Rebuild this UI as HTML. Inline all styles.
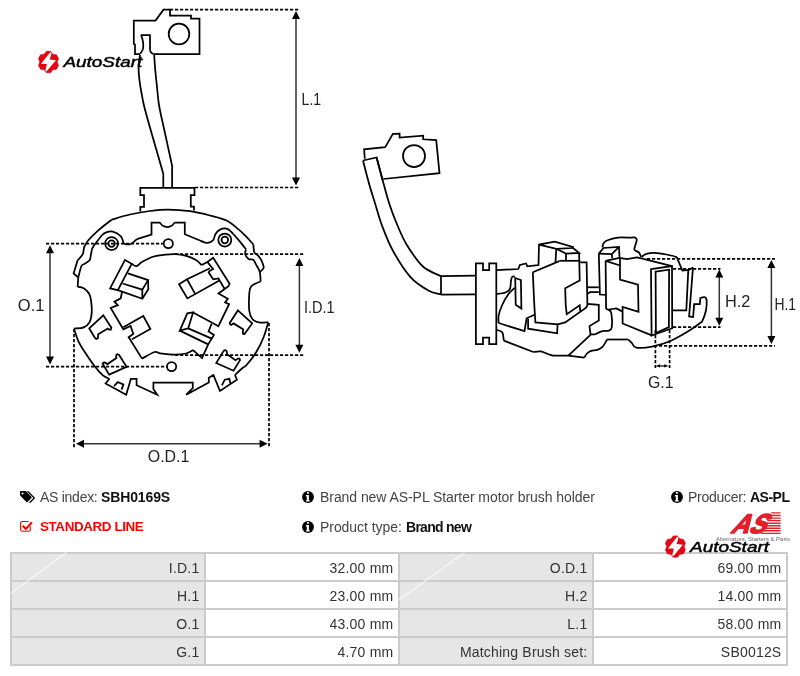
<!DOCTYPE html>
<html><head><meta charset="utf-8">
<style>
*{margin:0;padding:0;box-sizing:border-box}
html,body{width:800px;height:676px;background:#fff;overflow:hidden;font-family:"Liberation Sans",sans-serif;font-size:14px;color:#333}
#draw{position:absolute;left:0;top:0;width:800px;height:676px;will-change:transform}
.t,#tbl{will-change:transform}
.t{position:absolute;white-space:nowrap;line-height:16px;color:#444}
.t b{color:#111;font-weight:bold}
.red{color:#f00}
.red b{color:#f00}
#tbl{position:absolute;left:10px;top:552px;width:778px;height:114px;background:#cbcbcb;padding:2px;display:grid;grid-template-columns:192px 192px 192px 192px;grid-template-rows:26px 26px 26px 26px;gap:2px}
#tbl div{text-align:right;padding-right:4.6px;padding-top:1px;line-height:26px;height:26px;color:#333;white-space:nowrap;letter-spacing:0.2px}
#tbl .g{background:#e6e6e6}
#tbl .w{background:#fff}
.ic{position:absolute}
</style></head><body>


<!-- info rows -->
<svg class="ic" style="left:19px;top:490px" width="17" height="14" viewBox="0 0 17 14"><path d="M1.4,1 H6.4 Q6.8,1 7.1,1.3 L12.4,6.8 Q12.9,7.4 12.4,7.9 L8.6,11.9 Q8,12.5 7.4,11.9 L1.3,5.7 Q1,5.4 1,5 V1.4 Q1,1 1.4,1Z" fill="#000"/><circle cx="3.5" cy="3.5" r="1.05" fill="#fff"/><path d="M8.6,1.1 L15.3,8 L10.6,12.7" stroke="#000" stroke-width="1.3" fill="none"/></svg>
<div class="t" style="left:40px;top:489px;letter-spacing:-0.27px">AS index:</div><div class="t" style="left:101px;top:489px;letter-spacing:-0.12px"><b>SBH0169S</b></div>

<svg class="ic" style="left:19px;top:520px" width="14" height="13" viewBox="0 0 14 13"><path d="M9.6,1.5 H3.1 Q1.6,1.5 1.6,3 V9.7 Q1.6,11.2 3.1,11.2 H9.8 Q11.3,11.2 11.3,9.7 V6.4" stroke="#f00" stroke-width="1.15" fill="none"/><path d="M3.8,5.8 L6.9,9 L13,2.3" stroke="#f00" stroke-width="2.1" fill="none"/></svg>
<div class="t red" style="left:40.3px;top:519px;letter-spacing:-0.38px;font-size:13.4px"><b>STANDARD LINE</b></div>

<svg class="ic" style="left:302px;top:491px" width="12" height="12" viewBox="0 0 12 12"><circle cx="6" cy="5.95" r="5.95" fill="#000"/><rect x="4.9" y="1.05" width="2" height="1.8" rx="0.5" fill="#fff"/><path d="M3.9,4.1H6.9V9.2H7.7V10.6H3.9V9.2H4.8V5.4H3.9Z" fill="#fff"/></svg>
<div class="t" style="left:319.6px;top:489px;letter-spacing:-0.06px">Brand new AS-PL Starter motor brush holder</div>

<svg class="ic" style="left:302px;top:521px" width="12" height="12" viewBox="0 0 12 12"><circle cx="6" cy="5.95" r="5.95" fill="#000"/><rect x="4.9" y="1.05" width="2" height="1.8" rx="0.5" fill="#fff"/><path d="M3.9,4.1H6.9V9.2H7.7V10.6H3.9V9.2H4.8V5.4H3.9Z" fill="#fff"/></svg>
<div class="t" style="left:319.6px;top:519px;letter-spacing:-0.06px">Product type:</div><div class="t" style="left:405.9px;top:519px;letter-spacing:-0.72px"><b>Brand new</b></div>

<svg class="ic" style="left:671px;top:491px" width="12" height="12" viewBox="0 0 12 12"><circle cx="6" cy="5.95" r="5.95" fill="#000"/><rect x="4.9" y="1.05" width="2" height="1.8" rx="0.5" fill="#fff"/><path d="M3.9,4.1H6.9V9.2H7.7V10.6H3.9V9.2H4.8V5.4H3.9Z" fill="#fff"/></svg>
<div class="t" style="left:688.3px;top:489px;letter-spacing:-0.28px">Producer:</div><div class="t" style="left:750.4px;top:489px;letter-spacing:-0.5px"><b>AS-PL</b></div>

<div id="tbl">
<div class="g">I.D.1</div><div class="w">32.00 mm</div><div class="g">O.D.1</div><div class="w">69.00 mm</div>
<div class="g">H.1</div><div class="w">23.00 mm</div><div class="g">H.2</div><div class="w">14.00 mm</div>
<div class="g">O.1</div><div class="w">43.00 mm</div><div class="g">L.1</div><div class="w">58.00 mm</div>
<div class="g">G.1</div><div class="w">4.70 mm</div><div class="g">Matching Brush set:</div><div class="w">SB0012S</div>
</div>
<svg id="draw" viewBox="0 0 800 676" fill="none" stroke="#000" stroke-width="1.75" stroke-linejoin="miter">
<!-- DRAW START -->
<path d="M140,54 L135,54 L135,44.5 L133.8,44 L133.8,20.5 L155.5,20.5 L163.5,9.7 L170,9.7 L170,15.5 L191,15.5 L191,18.5 L199.5,18.5 L199.5,54 L153.7,54"/>
<path d="M140,54 C140.4,53.3 142,51.5 142.6,50 C143.2,48.5 143.3,46.8 143.3,45 C143.3,43.2 142.8,40.7 142.4,39 C142,37.3 141.2,35.7 141,35"/>
<path d="M141,35 L150,35 L150,50.5"/>
<path d="M150,50.5 C150.2,50.9 150.9,52.2 151.5,52.8 C152.1,53.4 153.3,53.8 153.7,54"/>
<circle cx="179" cy="34" r="10.3"/>
<path d="M140,55 C139.8,57 138.7,62.8 138.6,67 C138.5,71.2 139,76 139.5,80.5 C140,85 140.8,89.4 141.7,94 C142.5,98.6 142.5,99.8 144.6,108 C146.7,116.2 151.4,132.5 154.4,143 C157.4,153.5 161,165.5 162.5,171 C164,176.5 163.2,175.2 163.3,176"/>
<path d="M163.3,176 L163.3,187.8"/>
<path d="M154.2,55 C154.3,57 154.6,62 155,67 C155.4,72 156.1,78.7 156.8,85 C157.5,91.3 157.9,98.2 159,105 C160.1,111.8 161.2,115.8 163.3,125.5 C165.4,135.2 170,155.9 171.5,163 C173,170.1 172,167.2 172.1,168"/>
<path d="M172.1,168 L172.1,187.8"/>
<path d="M140.3,211.5 L140.3,206.8 L144,206.8 L144,195 L140.3,195 L140.3,187.8 L194.5,187.8 L194.5,195 L190.8,195 L190.8,206.5 L194,206.5 L194,210.5"/>
<path d="M111.6,219.7 C114.7,218.8 123.6,215.9 130,214.5 C136.4,213.1 143.7,211.8 150,211 C156.3,210.2 161.3,209.6 168,209.6 C174.7,209.6 183,210.2 190,211.2 C197,212.2 203.9,213.9 210,215.5 C216.1,217.1 221.8,218.3 226.5,220.5 C231.2,222.7 234.7,226.3 237.9,228.9 C241.2,231.5 243.4,233.7 246,236.3 C248.6,238.9 252.1,243.1 253.3,244.4"/>
<path d="M253.3,244.4 L254.1,252.5"/>
<path d="M254.1,252.5 C254.9,253.2 257.6,255 259,256.6 C260.4,258.2 261.5,260.4 262.3,262.3 C263.1,264.2 264,266.4 263.6,268 C263.2,269.6 260.4,271.3 259.8,272"/>
<path d="M233.3,234 C234.3,235.2 237.4,238.5 239.5,241.1 C241.6,243.7 244.9,247.9 246,249.3"/>
<path d="M246,249.3 C245.9,250.1 244.8,252.5 245.2,254.1 C245.6,255.7 247.2,258.1 248.5,259 C249.8,259.9 252,258.7 253.3,259.8 C254.7,260.9 255.5,263.5 256.6,265.5 C257.7,267.5 259.1,269.3 259.8,272 C260.5,274.7 260.5,279.9 260.6,281.5"/>
<path d="M260.6,281.5 C259.8,281.8 257.4,282.5 255.8,283.4 C254.2,284.3 252,285.1 250.9,286.7 C249.8,288.3 249.6,289.1 249.3,293.2 C249,297.2 248.8,306.7 249.3,311 C249.8,315.3 250.9,317.3 252.5,319.2 C254.1,321.1 256.3,321.9 259,322.4 C261.7,322.9 266.9,322.3 268.5,322.3"/>
<path d="M111.6,219.7 C109.4,221.5 102.2,226.9 98.3,230.3 C94.4,233.7 90.6,237.5 88.3,240.3 C86,243.1 85.2,244.7 84.3,246.9 C83.4,249.1 83.8,251.7 83,253.6 C82.2,255.5 80.5,257.1 79.6,258.2 C78.7,259.3 77.9,259.9 77.6,260.2"/>
<path d="M77.6,260.2 L73.6,273.5 L78.3,277.5"/>
<path d="M123.5,243 C123.1,241.9 122.7,238.2 120.9,236.3 C119.1,234.4 115.4,232.3 112.9,231.6 C110.5,230.9 108,231.7 106.2,232.3 C104.4,232.9 103.8,233.4 102.2,235 C100.7,236.6 98.6,239.4 96.9,241.6 C95.2,243.8 93.3,246.1 92.3,248.3 C91.3,250.5 91.4,252.9 90.9,254.9 C90.5,256.9 90.6,258.8 89.6,260.2 C88.6,261.6 86.3,262.7 85,263.6 C83.7,264.5 82.5,264.2 81.6,265.6 C80.7,267 80.1,270.2 79.6,272.2 C79,274.2 78.5,276.6 78.3,277.5"/>
<path d="M78.3,277.5 L77.6,286.8"/>
<path d="M77.6,286.8 C78.6,287 81.7,287.1 83.6,288.2 C85.5,289.3 87.8,291.5 89,293.5 C90.2,295.5 90.5,297.1 91,300.1 C91.5,303.2 92,308.1 91.8,311.8 C91.6,315.5 90.9,319.6 89.6,322.2 C88.2,324.8 86.3,326.3 83.7,327.4 C81.1,328.5 75.6,328.4 74,328.6"/>
<path d="M74,328.8 C74.9,331.1 77.1,338.6 79.2,342.9 C81.3,347.2 83.9,350.6 86.6,354.7 C89.3,358.8 92.8,363.9 95.5,367.3 C98.2,370.8 100.6,373.5 102.9,375.4 C105.2,377.3 108.3,378.2 109.4,378.8"/>
<path d="M268.2,322.8 C267.4,325.2 265.5,332.6 263.5,337.5 C261.5,342.4 258.8,348 256,352.5 C253.2,357 249.2,361.9 247,364.5 C244.8,367.1 244.5,366.2 242.5,368 C240.5,369.8 236.2,373.8 235,375"/>
<path d="M109.4,378.8 L105.6,383.4 L126.2,394.7 L130.9,378.8 L136.6,378.8 L136.6,385.3 L157.2,394.7 L153.4,389 L153.4,382.5 L192.8,382.5 L192.8,388.1 L186.2,394.7 L208.8,382.5 L208.8,377.8 L213.4,375 L220,391 L236.9,379.7 L235,375"/>
<path d="M114,386.2 L117.8,382.1 L123.4,384.4 L121.6,389.6"/>
<path d="M221.9,385.3 L224.7,379.7 L229.4,378.8 L230.3,383.4"/>
<path d="M123.5,243 C123.8,243.2 124.1,243.9 125.1,244.1 C126.1,244.3 128.3,244.6 129.5,244.4 C130.7,244.2 131.3,243.8 132.5,242.9 C133.7,242 136.2,239.8 136.9,239.2"/>
<path d="M136.9,239.2 L151.5,234.5 L151.5,222.5 L160,222.5"/>
<path d="M160,222.5 C160.4,223 161.3,224.8 162.5,225.6 C163.7,226.3 165.7,227 167.3,227 C168.9,227 170.8,226.3 172,225.6 C173.2,224.8 174.1,223 174.5,222.5"/>
<path d="M174.5,222.5 L184.8,222.5 L184.8,234.2 L200,240.5"/>
<path d="M200,240.5 C200.7,240.8 202.7,241.8 204,242.2 C205.3,242.6 206.5,243.3 208.1,242.9 C209.7,242.5 212.1,241.5 213.3,240 C214.5,238.5 214.4,235.7 215.5,234 C216.6,232.3 218,230.5 220,229.6 C222,228.7 225.1,228.1 227.3,228.8 C229.5,229.5 232.3,233.1 233.3,234"/>
<circle cx="111.6" cy="243.6" r="6.5"/>
<circle cx="111.6" cy="243.6" r="3.3"/>
<circle cx="224.8" cy="240" r="6.5"/>
<circle cx="224.8" cy="240" r="3.3"/>
<circle cx="168.3" cy="243.6" r="4.6"/>
<circle cx="171.6" cy="366.6" r="4.6"/>
<path d="M131.7,263.8 C132.5,264.2 134.7,266.5 136.5,266.2 C138.3,265.9 139.4,263.4 142.3,261.8 C145.2,260.2 150,257.7 153.8,256.5 C157.7,255.3 161.9,255 165.4,254.6 C168.9,254.2 171.5,253.9 175,254.1 C178.5,254.3 182.8,254.9 186.3,255.9 C189.8,256.9 193.4,258.5 196,260 C198.6,261.5 200.7,264.2 201.6,265.1"/>
<path d="M142,358.6 C144.1,357.5 151.6,352.9 154.6,352 C157.6,351.1 156.6,352.9 160,353.3 C163.4,353.7 170.7,354.5 175,354.5 C179.3,354.5 183,354.2 186,353.5 C189,352.8 191.9,350.7 193.1,350.1"/>
<path d="M125,259.9 L131.7,263.8 L117.8,290.2 L110.1,288.3Z"/>
<path d="M127.9,273.4 L148.1,280.1 L142.3,289.7 L122.6,283.5"/>
<path d="M117.8,290.2 L142.3,298.8 L148.3,289.2 L148.1,280.1"/>
<path d="M142.3,289.7 L142.3,298.8"/>
<path d="M122.1,291.5 L120.7,298.4 L114.4,301.7 L117.8,305.1 L110.7,308 L123.3,329.3 L130.6,326 L133.3,334 L128.6,337.3 L130,339.3 L142,358.6"/>
<path d="M123.3,327.3 L143.3,316 L150.4,329 L132,339.3"/>
<path d="M201.6,265.1 L207.4,262 L213.2,257.8 L229.6,283.7 L228.2,286.4 L224.7,289 L218.5,293.5 L227.8,298.8 L225.1,302.4 L229.1,304.1 L218.4,326.2 L212.6,323.1"/>
<path d="M207.4,262 L213.2,269.1 L209.2,271.3 L208.7,272.6 L213.2,279.3 L218.5,278.4 L219.4,280.2 L224.7,289"/>
<path d="M210,268.2 L187,279.3 L179,284.2 L187.4,298.4 L219.4,280.6"/>
<path d="M187,279.3 L195.4,294.4"/>
<path d="M179.8,330.6 L187.3,313.3 L193.1,312.4 L188.2,328.4Z"/>
<path d="M193.1,312.4 L212.6,323.1"/>
<path d="M188.2,328.4 L211.7,338.6"/>
<path d="M179.8,330.6 L208.2,344.4"/>
<path d="M211.7,323.5 L208.6,331.5 L213.9,335 L208.2,344.4 L202,358.1 L193.1,350.1"/>
<path d="M89.2,328.3 L103.3,315.3 L111.4,327.7 L110.9,329.7 L109.2,329.7 L107.8,328.6 L98.2,334.2 L97.9,338.1 L96.2,339 L94.8,337.6Z"/>
<path d="M109.2,374.6 L126.6,366.8 L119.1,355 L117.6,354.2 L116.4,354.9 L116.2,356.2 L116.4,358.1 L107.5,364.1 L104.6,362.4 L103.4,362.6 L102.6,363.7Z"/>
<path d="M237.9,310.4 L252.2,323.4 L244.4,334 L243.4,334 L242.8,333 L243.1,329.3 L233.5,323.4 L231.2,324.9 L230,324.2 L229.7,322.9Z"/>
<path d="M216.2,363 L233.5,370.7 L240,360.1 L239.6,358.7 L238.3,358.4 L235.5,360.3 L227.1,354.3 L226.7,351.2 L225.6,350.2 L224.3,350.4 L223.1,351.7Z"/>
<path d="M364.8,158.7 L364.1,149.4 L385.2,147.2 L392.9,133.9 L399.6,133.6 L399.6,137.6 L423.2,135.7 L423.2,139.3 L436.2,140.1 L439.5,173.1 L383.3,179"/>
<path d="M363,160.5 L376.6,157.5 L382.5,179.7"/>
<circle cx="414" cy="156" r="11"/>
<path d="M363,160.5 C364,164.4 367.2,177 369.2,184.2 C371.2,191.3 373,196.6 375.1,203.4 C377.2,210.2 378.9,217.2 381.8,225 C384.8,232.8 388,241.8 392.8,250.5 C397.6,259.2 404.6,270.5 410.5,277.1 C416.4,283.8 423.2,287.5 428.3,290.4 C433.4,293.3 438.9,293.8 441,294.5"/>
<path d="M376.6,157.5 C377.6,161.2 380.4,172 382.5,179.7 C384.6,187.3 386.7,195.8 389.2,203.4 C391.7,211 394.3,218 397.3,225 C400.3,232 402.7,238.3 407,245.2 C411.3,252.1 417.2,261.3 422.9,266.5 C428.6,271.7 438,274.6 441,276.2"/>
<path d="M441,276.2 L441,294.5"/>
<path d="M441,276.2 L475.9,275.6"/>
<path d="M441,294.5 L475.9,294.3"/>
<path d="M475.9,263.3 L483,263.3 L483,270.2 L489.2,270.2 L489.2,263.3 L496.3,263.3 L496.3,344 L489.2,344 L489.2,337.5 L483,337.5 L483,344 L475.9,344Z"/>
<path d="M496.3,270.2 L518.3,269 L519.9,265 L526.1,263.5 L527.3,266.3 L538.5,265 L539,244.6 L554.8,241.6 L572.8,246.9 L572,248 L556.3,248.8 L539,244.6"/>
<path d="M556.3,248.8 L555.5,262.3"/>
<path d="M556.3,248.8 L566,253.6 L579.1,252.9 L572.4,247.5"/>
<path d="M566,253.6 L566,260.6"/>
<path d="M579.1,252.9 L579.7,280.6 L565.2,288.3 L565.7,305 L566.7,314.2 L579.7,305.4 L580.2,311"/>
<path d="M559.3,260.8 L580.3,260.8"/>
<path d="M532.8,272.3 L559.3,261.1"/>
<path d="M532.8,272.3 L534.3,305 L534.9,314.7 L535.4,322.4 L557.6,324.3 L565.2,322.4 L586.4,307.4 L587.4,305 L586.6,262.3 L580.3,262.3"/>
<path d="M498.6,323 L524.5,331.2 L526.6,318.3 L534.6,314.7"/>
<path d="M528.1,318.8 L528.1,328.7 L557.1,333.3 L557.6,324.3"/>
<path d="M515.2,278 L520.9,280 L521.4,308.5 L515.7,304.8Z"/>
<path d="M496.3,294 C497.8,293.8 503.1,293.4 505.4,292.5 C507.7,291.6 509.1,290.8 510,288.8 C510.9,286.8 510.6,282.6 511,280.6 C511.4,278.6 511.5,277.7 512.1,277 C512.7,276.3 514.3,276.5 514.7,276.4"/>
<path d="M514.7,287.8 C513.7,288.8 510.6,291.1 508.5,294 C506.4,296.9 503.8,301.4 502.2,305 C500.6,308.6 499.2,312.7 498.6,315.7 C498,318.7 498.6,321.8 498.6,323"/>
<path d="M496.3,329.7 C497.3,330.1 500.9,330.5 502.2,332.3 C503.4,334.1 503.5,339.2 503.8,340.6"/>
<path d="M503.8,340.6 L533.3,352"/>
<path d="M533.3,352 C534.5,351.9 538.2,351.1 540.6,351.4 C543,351.7 545.7,353.3 547.8,354 C549.9,354.7 551,355.4 553,355.6 C555,355.9 557.5,355.5 560,355.5 C562.5,355.5 566.9,355.6 568.3,355.6"/>
<path d="M568.3,355.6 L584.3,357.6"/>
<path d="M584.3,357.6 C584.7,356.9 585.8,354.6 586.9,353.5 C588,352.4 589.4,351.5 591.1,350.9 C592.8,350.3 595.4,350.6 597.3,349.9 C599.2,349.2 600.9,348.5 602.5,346.8 C604.1,345.1 606.3,340.7 607.1,339.5"/>
<path d="M607.1,339.5 L628.3,339.5"/>
<path d="M628.3,339.5 C628.9,340.1 630.5,341.5 631.8,342.9 C633.1,344.2 632.8,347 636.3,347.6 C639.8,348.2 647.5,347.4 653.1,346.3 C658.7,345.2 664.5,343.4 670,341.2 C675.5,338.9 680.9,335.7 685.8,332.8 C690.7,329.9 696.4,325.9 699.2,323.8 C702,321.7 701.5,322.6 702.6,320.4 C703.7,318.1 705.3,313.7 706,310.3 C706.7,306.9 706.8,302.4 706.6,300.1 C706.4,297.9 705.2,297.4 704.9,296.8"/>
<path d="M704.9,296.8 L700.4,297.9 L699.8,304.1 L694.2,304.1 L693.1,317 L689.1,316.4 L693,267.5"/>
<path d="M590.5,334.9 L568.3,355.6"/>
<path d="M587.4,303.8 L598.8,304.8 L598.8,320.4 L589.5,326.1 L590.5,334.3 L595.2,334.3"/>
<path d="M595.2,334.3 C596.4,333.8 600.2,331.8 602.5,331.2 C604.8,330.6 607.2,331.4 608.7,330.7 C610.2,330 611.4,330 611.8,327.1 C612.2,324.2 611.8,316 611.3,313.1 C610.8,310.2 609.6,310.7 608.7,310 C607.8,309.3 606.5,309.2 606.1,309"/>
<path d="M608.7,309.5 L616.4,308.5 L622.6,311.6"/>
<path d="M587.4,287.3 L598.8,287.3"/>
<path d="M587.4,294 L590,292 L598.8,292"/>
<path d="M598.8,253.6 L603.5,248 L619,246.9 L619.5,257.3"/>
<path d="M598.8,253.6 L611.8,254.2 L619,246.9"/>
<path d="M611.8,254.2 L612.3,258.3"/>
<path d="M598.8,253.6 L599.9,294.5 L606.1,295"/>
<path d="M602.5,247.4 C602.7,246.7 602.6,244.5 603.5,243.3 C604.4,242.1 605.2,241.1 607.6,240.2 C610,239.2 614.3,238 618,237.6 C621.7,237.2 627.2,237.6 630,237.6 C632.8,237.6 633.4,237.1 634.5,237.4 C635.6,237.8 636.8,237.9 636.8,239.7 C636.8,241.5 634.8,246.2 634.5,248 C634.2,249.8 634.2,249.6 635,250.4 C635.8,251.2 638.2,251.7 639.2,252.8 C640.2,253.9 640.7,256.2 641,256.9"/>
<path d="M605.6,260.9 L619.5,257.8 L627,259.2 L636.8,257.5 L640.4,258.1 L672,266.1"/>
<path d="M605.6,260.9 L606.1,309"/>
<path d="M605.6,260.9 L620,265.5"/>
<path d="M620,258 L620,279.5 L638,284.7 L638.5,311.9 L622.6,306.9 L622.6,323.5 L652.3,335.6"/>
<path d="M651,269.2 L672,266.1 L672.2,328.2 L651.6,335.6Z"/>
<path d="M655.6,271.6 L669.1,269.7 L668.9,327.1 L655.9,333Z"/>
<path d="M641.6,256.9 C642.4,256.4 644.1,254.6 646.3,253.9 C648.5,253.2 651.2,252.7 654.6,252.8 C658,252.9 662.9,253.8 666.4,254.5 C669.9,255.2 674,256.1 675.9,256.9 C677.8,257.7 677.4,258.9 677.7,259.3"/>
<path d="M677.7,259.3 L682.4,270.5 L688.9,269.9 L693,267.5"/>
<path d="M688.3,269.9 L686.3,310.3 L672.8,310.3"/>
<path d="M170,9.7L299.5,9.7 M195,187.5L299.5,187.5 M46,243.6L163.5,243.6 M46,366.6L167,366.6 M175,254.1L303.7,254.1 M175,355.2L303.7,355.2 M74,329L74,447.5 M269,323L269,447.5 M647,258.9L774.9,258.9 M673,268.9L720.5,268.9 M673,327.1L720.5,327.1 M654,345.8L774.9,345.8 M655.4,330L655.4,368 M669.6,330L669.6,368" stroke-dasharray="3.2 1.8" stroke-width="1.7"/>
<path d="M296,18L296,178.5 M50,252.3L50,357.6 M299.4,265L299.4,345.8 M83,443.8L260.6,443.8 M719.3,276.6L719.3,318.7 M771.4,267.1L771.4,337.1 M659,365.9L665.2,365.9" stroke-width="1.5" stroke="#333"/>
<path d="M296,11L292,19L300,19Z M296,185.5L292,177.5L300,177.5Z M50,245.3L46,253.3L54,253.3Z M50,364.6L46,356.6L54,356.6Z M299.4,258L295.4,266L303.4,266Z M299.4,352.8L295.4,344.8L303.4,344.8Z M76,443.8L84,439.8L84,447.8Z M267.6,443.8L259.6,439.8L259.6,447.8Z M719.3,269.6L715.3,277.6L723.3,277.6Z M719.3,325.7L715.3,317.7L723.3,317.7Z M771.4,260.1L767.4,268.1L775.4,268.1Z M771.4,344.1L767.4,336.1L775.4,336.1Z M655.6,365.9L660,364.3L660,367.5Z M668.6,365.9L664.2,364.3L664.2,367.5Z" fill="#000" stroke="none"/>
<text x="301.6" y="104.8" font-size="16.8" textLength="19.5" lengthAdjust="spacingAndGlyphs" fill="#222" stroke="none" font-family="Liberation Sans, sans-serif">L.1</text>
<text x="17.8" y="311" font-size="16.2" textLength="26.6" lengthAdjust="spacingAndGlyphs" fill="#222" stroke="none" font-family="Liberation Sans, sans-serif">O.1</text>
<text x="304" y="312.8" font-size="16.3" textLength="30.6" lengthAdjust="spacingAndGlyphs" fill="#222" stroke="none" font-family="Liberation Sans, sans-serif">I.D.1</text>
<text x="147.8" y="462.2" font-size="17.3" textLength="41.6" lengthAdjust="spacingAndGlyphs" fill="#222" stroke="none" font-family="Liberation Sans, sans-serif">O.D.1</text>
<text x="725" y="306.9" font-size="17.2" textLength="25.4" lengthAdjust="spacingAndGlyphs" fill="#222" stroke="none" font-family="Liberation Sans, sans-serif">H.2</text>
<text x="774.4" y="310.1" font-size="17.2" textLength="21.6" lengthAdjust="spacingAndGlyphs" fill="#222" stroke="none" font-family="Liberation Sans, sans-serif">H.1</text>
<text x="648" y="388.2" font-size="17.2" textLength="25.6" lengthAdjust="spacingAndGlyphs" fill="#222" stroke="none" font-family="Liberation Sans, sans-serif">G.1</text>
<path d="M67,552 L9.5,594.2 M464.6,552.6 L398.6,600" stroke="#fff" stroke-opacity="0.55" stroke-width="1.6"/>
<path d="M45.1,52.9 L45.9,51.8 L46.5,51.3 L50.5,51.3 L51.1,51.8 L51.9,52.9 L52.9,54.2 L54.4,54.5 L55.8,54.6 L56.5,54.8 L58.5,58.5 L58.3,59.2 L57.8,60.5 L57.2,62 L57.8,63.5 L58.3,64.8 L58.5,65.5 L56.5,69.2 L55.8,69.4 L54.4,69.5 L52.9,69.8 L51.9,71.1 L51.1,72.2 L50.5,72.7 L46.5,72.7 L45.9,72.2 L45.1,71.1 L44.1,69.8 L42.6,69.5 L41.2,69.4 L40.5,69.2 L38.5,65.5 L38.7,64.8 L39.2,63.5 L39.8,62 L39.2,60.5 L38.7,59.2 L38.5,58.5 L40.5,54.8 L41.2,54.6 L42.6,54.5 L44.1,54.2Z" fill="#e30613" stroke="#e30613" stroke-width="0.6" stroke-linejoin="round"/><path d="M50.5,52 L51.6,53.2 L49.6,59.4 L56,60.2 L46.4,71.6 L45.3,70.9 L46.9,64 L41,63.8Z" fill="#fff" stroke="none"/><text x="63.4" y="67" font-size="14.4" font-style="italic" textLength="79" lengthAdjust="spacingAndGlyphs" fill="#000" stroke="#000" stroke-width="0.45" font-family="Liberation Sans, sans-serif">AutoStart</text>
<g transform="translate(729.5,532.8) skewX(-30)"><text x="0.5" y="0" font-size="27" font-weight="bold" textLength="34" lengthAdjust="spacingAndGlyphs" fill="#e2202b" stroke="#e2202b" stroke-width="1.6" stroke-linejoin="round" font-family="Liberation Sans, sans-serif">AS</text></g>
<path d="M771.3,512.3H780.6V513.6H771.3ZM770,514.8H780.6V516.2H770ZM768.6,517.4H780.6V518.8H768.6ZM767.3,519.9H780.6V521.3H767.3ZM766,522.5H780.6V523.9H766ZM764.7,525H780.6V526.4H764.7ZM763.4,527.6H780.6V528.9H763.4ZM762,530.1H780.6V531.5H762ZM760.7,532.7H780.6V534H760.7Z" fill="#e2202b" stroke="none"/>
<text x="716" y="541.3" font-size="6.2" textLength="74" lengthAdjust="spacingAndGlyphs" fill="#666" stroke="none" font-family="Liberation Sans, sans-serif">Alternators, Starters &amp; Parts</text>
<path d="M672,537.5 L672.8,536.4 L673.4,535.9 L677.4,535.9 L678,536.4 L678.8,537.5 L679.8,538.8 L681.3,539.1 L682.7,539.2 L683.4,539.4 L685.4,543.1 L685.2,543.8 L684.7,545.1 L684.1,546.6 L684.7,548.1 L685.2,549.4 L685.4,550.1 L683.4,553.8 L682.7,554 L681.3,554.1 L679.8,554.4 L678.8,555.7 L678,556.8 L677.4,557.3 L673.4,557.3 L672.8,556.8 L672,555.7 L671,554.4 L669.5,554.1 L668.1,554 L667.4,553.8 L665.4,550.1 L665.6,549.4 L666.1,548.1 L666.7,546.6 L666.1,545.1 L665.6,543.8 L665.4,543.1 L667.4,539.4 L668.1,539.2 L669.5,539.1 L671,538.8Z" fill="#e30613" stroke="#e30613" stroke-width="0.6" stroke-linejoin="round"/><path d="M677.4,536.6 L678.5,537.8 L676.5,544 L682.9,544.8 L673.3,556.2 L672.2,555.5 L673.8,548.6 L667.9,548.4Z" fill="#fff" stroke="none"/><text x="690" y="552.3" font-size="14.4" font-style="italic" textLength="79" lengthAdjust="spacingAndGlyphs" fill="#000" stroke="#000" stroke-width="0.45" font-family="Liberation Sans, sans-serif">AutoStart</text>
<!-- DRAW END -->
</svg>
</body></html>
